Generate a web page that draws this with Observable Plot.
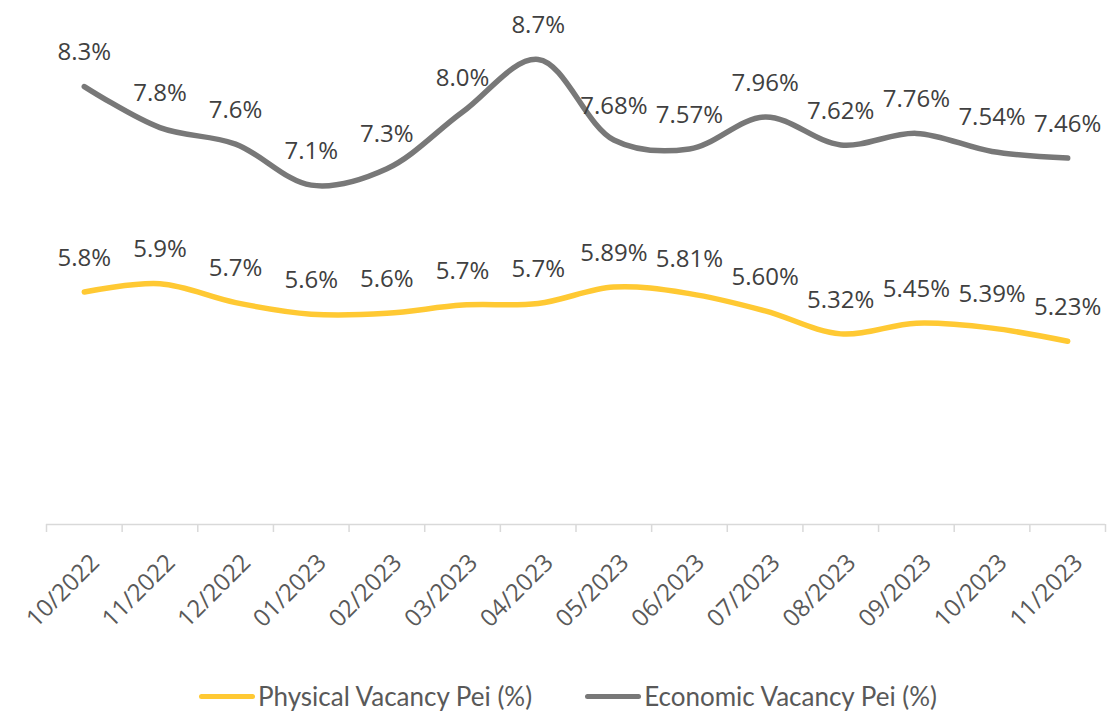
<!DOCTYPE html>
<html>
<head>
<meta charset="utf-8">
<script src="https://cdn.jsdelivr.net/npm/d3@7"></script>
<script src="https://cdn.jsdelivr.net/npm/@observablehq/plot@0.6"></script>
<style>
  html, body { margin: 0; padding: 0; background: #fff; }
  #chart svg { display: block; }
  #legend { display: flex; justify-content: center; align-items: center; height: 36px; margin-top: 18px; padding-left: 22px;
            font-family: Lato, "Open Sans", sans-serif; font-size: 26px; color: #595959; }
  .item { display: flex; align-items: center; }
  .swatch { width: 56px; height: 5px; border-radius: 3px; margin-right: 3px; }
  .gap { width: 53px; }
</style>
</head>
<body>
<div id="chart"></div>
<div id="legend"></div>
<script>
const months = ["10/2022","11/2022","12/2022","01/2023","02/2023","03/2023","04/2023","05/2023","06/2023","07/2023","08/2023","09/2023","10/2023","11/2023"];
const physical = [5.83, 5.93, 5.70, 5.56, 5.57, 5.67, 5.69, 5.89, 5.81, 5.60, 5.32, 5.45, 5.39, 5.23];
const economic = [8.33, 7.83, 7.63, 7.13, 7.33, 8.02, 8.66, 7.68, 7.57, 7.96, 7.62, 7.76, 7.54, 7.46];
// number of decimals shown in each label
const decimals = [1, 1, 1, 1, 1, 1, 1, 2, 2, 2, 2, 2, 2, 2];
const seriesNames = ["Physical Vacancy Pei (%)", "Economic Vacancy Pei (%)"];
const colors = ["#FFC933", "#787878"];

const rows = [];
months.forEach((m, i) => {
  rows.push({i, month: m, series: seriesNames[0], value: physical[i], label: physical[i].toFixed(decimals[i]) + "%"});
  rows.push({i, month: m, series: seriesNames[1], value: economic[i], label: economic[i].toFixed(decimals[i]) + "%"});
});
const boundaries = months.map((_, i) => i - 0.5).concat([months.length - 0.5]);
const monthIdx = months.map((_, i) => i);

const chart = Plot.plot({
  width: 1114,
  height: 660,
  marginLeft: 46,
  marginRight: 9,
  marginTop: 31,
  marginBottom: 136,
  x: {domain: [-0.5, months.length - 0.5], axis: null, label: null},
  y: {domain: [3, 9], axis: null, label: null},
  color: {domain: seriesNames, range: colors},
  style: {fontFamily: "'Open Sans', sans-serif", background: "#fff"},
  marks: [
    Plot.ruleY([3], {stroke: "#D9D9D9", strokeWidth: 1.5}),
    Plot.axisX(boundaries, {tickSize: 8, tickFormat: () => "", label: null, stroke: "#D9D9D9", strokeWidth: 1.5, strokeOpacity: 1}),
    Plot.text(monthIdx, {x: d => d, y: 3, text: d => months[d], rotate: -45, textAnchor: "end", dx: 11, dy: 34, fontSize: 24, fill: "#595959"}),
    Plot.line(rows, {x: "i", y: "value", z: "series", stroke: "series", strokeWidth: 5.5, curve: "catmull-rom", strokeLinecap: "round", strokeLinejoin: "round"}),
    Plot.text(rows, {x: "i", y: "value", text: "label", dy: -34, fontSize: 24, fill: "#404040"})
  ]
});
document.getElementById("chart").appendChild(chart);

const legend = document.getElementById("legend");
seriesNames.forEach((name, k) => {
  if (k > 0) { const g = document.createElement("div"); g.className = "gap"; legend.appendChild(g); }
  const item = document.createElement("div");
  item.className = "item";
  const sw = document.createElement("span");
  sw.className = "swatch";
  sw.style.background = colors[k];
  const t = document.createElement("span");
  t.textContent = name;
  item.appendChild(sw);
  item.appendChild(t);
  legend.appendChild(item);
});
</script>
</body>
</html>
